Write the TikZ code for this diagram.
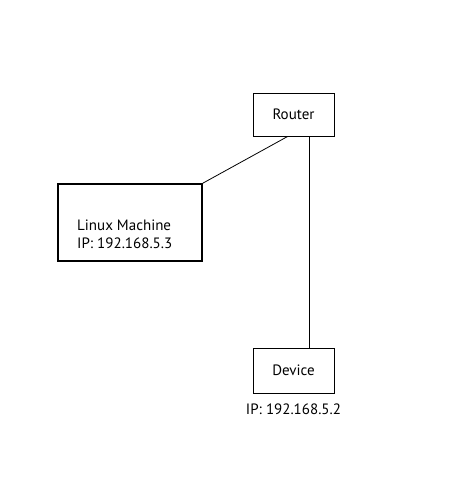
\documentclass[tikz,border=0pt]{standalone}
\usepackage{fontspec}
\setmainfont{PT Sans}
\usetikzlibrary{calc,positioning}
\tikzstyle{box}=[rectangle,draw,line width=0.8pt,inner sep=0pt]
\tikzstyle{bigbox}=[rectangle,draw,line width=1.6pt,inner sep=0pt]
\tikzstyle{link} = [draw,line width=0.8pt]
\tikzstyle{txt} = [font=\fontsize{15}{18}\selectfont]

\begin{document}
\begin{tikzpicture}[x=1pt,y=-1pt]
   \useasboundingbox (0,0) rectangle (474,503);

    \node[box,minimum width=81pt,minimum height=43pt,txt] (router) at (293.5,114.5) {Router};
    \node[bigbox,minimum width=144pt,minimum height=77pt] (linux) at (130,222.5) {};
    \node[txt,align=left,anchor=west,inner sep=0pt] (linuxip) at (77,234) {Linux Machine\\IP: 192.168.5.3};
    \node[box,minimum width=81pt,minimum height=45pt,txt] (device) at (293.5,370.5) {Device};
    \node[txt,below=7pt of device.south] (deviceip) {IP: 192.168.5.2};

    % links from the router
    \draw[link] ($(router.south west)!0.43!(router.south east)$) -- (linux.north east);
    \draw[link] ($(router.south west)!0.70!(router.south east)$) -- ($(device.north west)!0.70!(device.north east)$);
\end{tikzpicture}
\end{document}
